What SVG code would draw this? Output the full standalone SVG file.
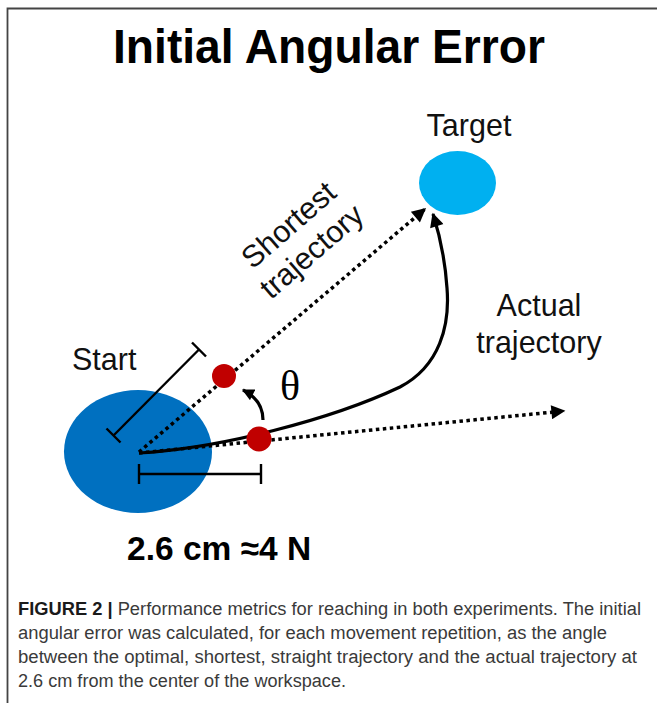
<svg xmlns="http://www.w3.org/2000/svg" width="657" height="703" viewBox="0 0 657 703">
  <style>
    .lbl { font-family: "Liberation Sans", Arial, sans-serif; font-size: 30.5px; fill: #111; }
    .dot { fill: #c00000; }
    .dotted { fill: none; stroke: #000; stroke-width: 3.5; stroke-dasharray: 3.5 3.5; }
    .solid { fill: none; stroke: #000; stroke-width: 3.2; }
    .bar { fill: none; stroke: #000; stroke-width: 2.4; }
    .cap { font-family: "Liberation Sans", Arial, sans-serif; font-size: 18px; fill: #3a3a3a; }
  </style>
  <defs>
    <marker id="ah" viewBox="0 0 10 10" refX="9" refY="5" markerWidth="16" markerHeight="14" markerUnits="userSpaceOnUse" orient="auto">
      <path d="M0,0 L10,5 L0,10 z" fill="#000"/>
    </marker>
    <marker id="ahs" viewBox="0 0 10 10" refX="9" refY="5" markerWidth="13" markerHeight="12" markerUnits="userSpaceOnUse" orient="auto">
      <path d="M0,0 L10,5 L0,10 z" fill="#000"/>
    </marker>
  </defs>
  <rect width="657" height="703" fill="#fff"/>
  <path d="M7.5,703 V8.5 H657" fill="none" stroke="#444" stroke-width="1.8"/>

  <g id="title">
    <text x="329" y="63" text-anchor="middle" font-family="Liberation Sans, Arial, sans-serif" font-weight="bold" font-size="49" textLength="432" lengthAdjust="spacingAndGlyphs" fill="#000">Initial Angular Error</text>
  </g>

  <g id="start">
    <ellipse cx="138" cy="451.5" rx="74" ry="61.5" fill="#0070c0"/>
    <text class="lbl" x="72" y="370">Start</text>
  </g>

  <g id="target">
    <ellipse cx="457.5" cy="183" rx="38.5" ry="32" fill="#00b0f0"/>
    <text class="lbl" x="469" y="136" text-anchor="middle">Target</text>
  </g>

  <g id="connectors">
    <line class="dotted" x1="139" y1="452" x2="425" y2="209" marker-end="url(#ah)"/>
    <line class="dotted" x1="139" y1="453" x2="564" y2="411" marker-end="url(#ah)"/>
    <path class="solid" d="M139,453 C220,448 330,420 400,387 C440,366 450,325 447,288 C445,258 440,236 433,214" marker-end="url(#ah)"/>
    <path class="solid" d="M263,420 Q263,400 243,390" stroke-width="3" marker-end="url(#ahs)"/>
  </g>

  <g id="measures">
    <line class="bar" x1="113.5" y1="435.5" x2="199" y2="349.5"/>
    <line class="bar" x1="106.5" y1="428.5" x2="120.5" y2="442.5"/>
    <line class="bar" x1="192" y1="342.5" x2="206" y2="356.5"/>
    <line class="bar" x1="139" y1="474" x2="261" y2="474"/>
    <line class="bar" x1="139" y1="464" x2="139" y2="484"/>
    <line class="bar" x1="261" y1="464" x2="261" y2="484"/>
  </g>

  <g id="points">
    <circle class="dot" cx="224" cy="376" r="12"/>
    <circle class="dot" cx="259" cy="439" r="12.5"/>
  </g>

  <g id="labels">
    <text x="290" y="400" text-anchor="middle" font-family="Liberation Serif, Times New Roman, serif" font-size="42" fill="#000">θ</text>
    <g transform="translate(300,238) rotate(-41)">
      <text class="lbl" x="0" y="-7" text-anchor="middle">Shortest</text>
      <text class="lbl" x="0" y="28" text-anchor="middle">trajectory</text>
    </g>
    <text class="lbl" x="539" y="316" text-anchor="middle">Actual</text>
    <text class="lbl" x="539" y="353" text-anchor="middle">trajectory</text>
    <text x="127" y="560" font-family="Liberation Sans, Arial, sans-serif" font-weight="bold" font-size="33.5" fill="#000">2.6 cm ≈4 N</text>
  </g>

  <g id="caption">
    <text class="cap" x="18" y="615" textLength="623" lengthAdjust="spacingAndGlyphs"><tspan font-weight="bold" fill="#1a1a1a">FIGURE 2 |</tspan> Performance metrics for reaching in both experiments. The initial</text>
    <text class="cap" x="18" y="639" textLength="589" lengthAdjust="spacingAndGlyphs">angular error was calculated, for each movement repetition, as the angle</text>
    <text class="cap" x="18" y="663" textLength="619" lengthAdjust="spacingAndGlyphs">between the optimal, shortest, straight trajectory and the actual trajectory at</text>
    <text class="cap" x="18" y="687" textLength="328" lengthAdjust="spacingAndGlyphs">2.6 cm from the center of the workspace.</text>
  </g>
</svg>
